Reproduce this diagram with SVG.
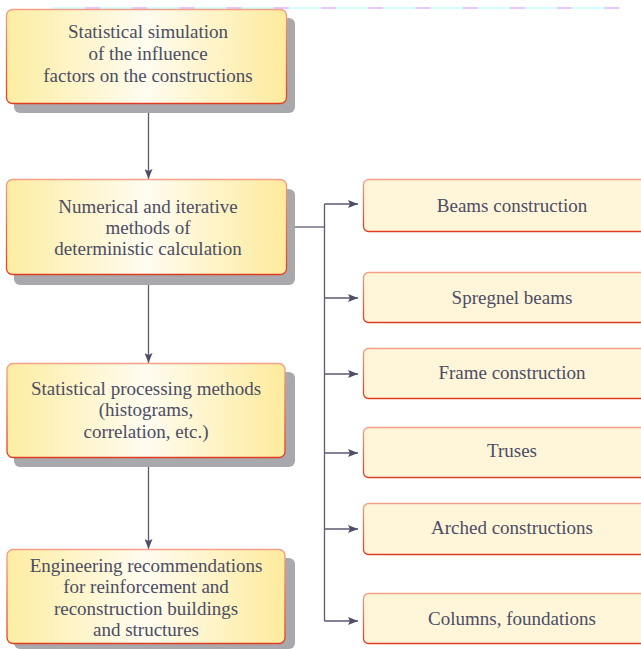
<svg xmlns="http://www.w3.org/2000/svg" width="641" height="649" viewBox="0 0 641 649">
<defs>
<linearGradient id="gfill" x1="0" y1="0" x2="1" y2="0">
<stop offset="0" stop-color="#fdeda2"/>
<stop offset="0.5" stop-color="#fffcf0"/>
<stop offset="1" stop-color="#fdeb9c"/>
</linearGradient>
<linearGradient id="gstroke" x1="0" y1="0" x2="0" y2="1">
<stop offset="0" stop-color="#f2a088"/>
<stop offset="1" stop-color="#e03c22"/>
</linearGradient>
<marker id="arr" viewBox="0 0 10 8" refX="10" refY="4" markerWidth="10" markerHeight="8" markerUnits="userSpaceOnUse" orient="auto">
<path d="M0,0 L10,4 L0,8 L2,4 Z" fill="#4e4e68"/>
</marker>
</defs>
<style>
.shadow{fill:#a9a9ad}
.main{fill:url(#gfill);stroke:url(#gstroke);stroke-width:1.3}
.side{fill:#fff6da;stroke:url(#gstroke);stroke-width:1.3}
.t{font-family:"Liberation Serif","Times New Roman",serif;font-size:19px;fill:#4c4c64;text-anchor:middle}
.c{fill:none;stroke:#5a5a72;stroke-width:1.3}
</style>
<line x1="52" y1="8" x2="620" y2="8" stroke="#c4ffff" stroke-width="1.5"/>
<line x1="85" y1="8" x2="620" y2="8" stroke="#f2b4ff" stroke-width="1.5" stroke-dasharray="15 32.2"/>
<g id="connectors">
<line class="c" x1="148.5" y1="103" x2="148.5" y2="179" marker-end="url(#arr)"/>
<line class="c" x1="148.5" y1="275" x2="148.5" y2="363" marker-end="url(#arr)"/>
<line class="c" x1="148.5" y1="457" x2="148.5" y2="549" marker-end="url(#arr)"/>
<polyline class="c" points="295,227 324.5,227"/>
<line class="c" x1="324.5" y1="204" x2="324.5" y2="621"/>
<line class="c" x1="324.5" y1="204" x2="358" y2="204" marker-end="url(#arr)"/>
<line class="c" x1="324.5" y1="298" x2="358" y2="298" marker-end="url(#arr)"/>
<line class="c" x1="324.5" y1="374" x2="358" y2="374" marker-end="url(#arr)"/>
<line class="c" x1="324.5" y1="453" x2="358" y2="453" marker-end="url(#arr)"/>
<line class="c" x1="324.5" y1="529" x2="358" y2="529" marker-end="url(#arr)"/>
<line class="c" x1="324.5" y1="621" x2="358" y2="621" marker-end="url(#arr)"/>
</g>
<g id="n1">
<rect class="shadow" x="14" y="18" width="281" height="95" rx="6"/>
<rect class="main" x="6.5" y="9.5" width="280" height="94" rx="6"/>
<text class="t" x="148" y="38">Statistical simulation</text>
<text class="t" x="148" y="60">of the influence</text>
<text class="t" x="148" y="82">factors on the constructions</text>
</g>
<g id="n2">
<rect class="shadow" x="14" y="189" width="281" height="96" rx="6"/>
<rect class="main" x="6.5" y="179.5" width="280" height="95" rx="6"/>
<text class="t" x="148" y="213">Numerical and iterative</text>
<text class="t" x="148" y="234">methods of</text>
<text class="t" x="148" y="255">deterministic calculation</text>
</g>
<g id="n3">
<rect class="shadow" x="14" y="372" width="281" height="95" rx="6"/>
<rect class="main" x="7" y="363.5" width="278" height="94" rx="6"/>
<text class="t" x="146" y="395">Statistical processing methods</text>
<text class="t" x="146" y="416">(histograms,</text>
<text class="t" x="146" y="438">correlation, etc.)</text>
</g>
<g id="n4">
<rect class="shadow" x="14" y="558" width="281" height="91" rx="6"/>
<rect class="main" x="7" y="549.5" width="278" height="94" rx="6"/>
<text class="t" x="146" y="572">Engineering recommendations</text>
<text class="t" x="146" y="593">for reinforcement and</text>
<text class="t" x="146" y="615">reconstruction buildings</text>
<text class="t" x="146" y="636">and structures</text>
</g>
<g id="r1">
<rect class="side" x="363.5" y="179.5" width="284" height="52" rx="5"/>
<text class="t" x="512" y="212">Beams construction</text>
</g>
<g id="r2">
<rect class="side" x="363.5" y="272.5" width="284" height="50" rx="5"/>
<text class="t" x="512" y="304">Spregnel beams</text>
</g>
<g id="r3">
<rect class="side" x="363.5" y="348.5" width="284" height="50" rx="5"/>
<text class="t" x="512" y="379">Frame construction</text>
</g>
<g id="r4">
<rect class="side" x="363.5" y="427.5" width="284" height="50" rx="5"/>
<text class="t" x="512" y="457">Truses</text>
</g>
<g id="r5">
<rect class="side" x="363.5" y="503.5" width="284" height="51" rx="5"/>
<text class="t" x="512" y="534">Arched constructions</text>
</g>
<g id="r6">
<rect class="side" x="363.5" y="593.5" width="284" height="50" rx="5"/>
<text class="t" x="512" y="625">Columns, foundations</text>
</g>
</svg>
